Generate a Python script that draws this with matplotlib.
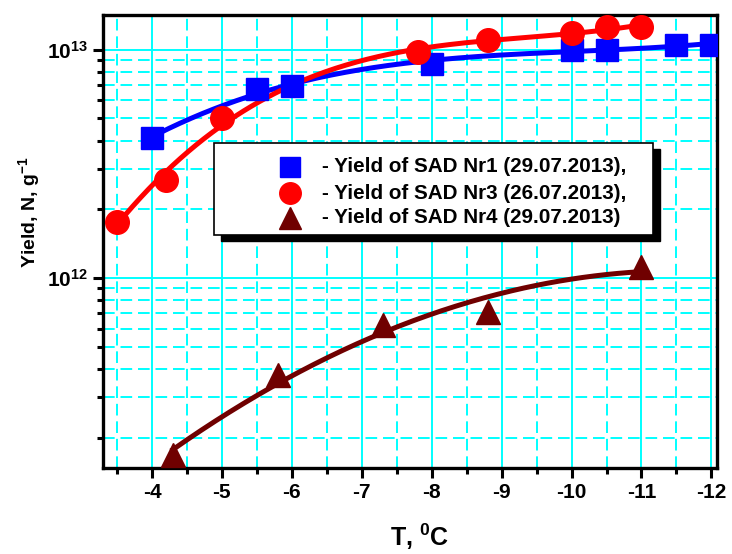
import matplotlib
matplotlib.use("Agg")
import matplotlib.pyplot as plt
import numpy as np
from matplotlib.patches import Rectangle
from matplotlib.ticker import FixedLocator, FuncFormatter, LogLocator, NullFormatter

plt.rcParams['font.family'] = ['Liberation Sans', 'DejaVu Sans']
plt.rcParams['font.weight'] = 'bold'
plt.rcParams['mathtext.fontset'] = 'custom'
plt.rcParams['mathtext.rm'] = 'Liberation Sans:bold'
plt.rcParams['mathtext.bf'] = 'Liberation Sans:bold'

# data
t_nr1 = [-4.0, -5.5, -6.0, -8.0, -10.0, -10.5, -11.5, -12.0]
y_nr1 = [4.1e12, 6.7e12, 6.95e12, 8.7e12, 1.0e13, 1.0e13, 1.05e13, 1.05e13]

t_nr3 = [-3.5, -4.2, -5.0, -7.8, -8.8, -10.0, -10.5, -11.0]
y_nr3 = [1.76e12, 2.69e12, 5.0e12, 9.8e12, 1.1e13, 1.18e13, 1.26e13, 1.26e13]

t_nr4 = [-4.3, -5.8, -7.3, -8.8, -11.0]
y_nr4 = [1.67e11, 3.76e11, 6.2e11, 7.1e11, 1.12e12]

labels = ['- Yield of SAD Nr1 (29.07.2013),',
          '- Yield of SAD Nr3 (26.07.2013),',
          '- Yield of SAD Nr4 (29.07.2013)']


def fit_line(t, y, deg):
    # smooth curve through the points (polynomial in log space)
    c = np.polyfit(t, np.log10(y), deg)
    xs = np.linspace(min(t), max(t), 200)
    return xs, 10 ** np.polyval(c, xs)


fig = plt.figure(figsize=(7.32, 5.54), dpi=100)
ax = fig.add_axes([0.1407, 0.1552, 0.8388, 0.8177])

series = [
    (t_nr1, y_nr1, 'blue', 's', 16, 14, 3),
    (t_nr3, y_nr3, 'red', 'o', 17, 15.5, 3),
    (t_nr4, y_nr4, '#700000', '^', 17, 16, 2),
]
for t, y, col, mk, ms, lms, deg in series:
    xs, ys = fit_line(t, y, deg)
    ax.plot(xs, ys, color=col, lw=3.6, zorder=3)
    ax.plot(t, y, ls='none', marker=mk, ms=ms, color=col, zorder=4)

ax.set_yscale('log')
ax.set_xlim(-3.3, -12.08)
ax.set_ylim(1.47e11, 1.42e13)

ax.xaxis.set_major_locator(FixedLocator(np.arange(-4, -12.5, -1)))
ax.xaxis.set_minor_locator(FixedLocator(np.arange(-3.5, -12.5, -1)))
ax.xaxis.set_major_formatter(FuncFormatter(lambda v, p: '%d' % v))
ax.yaxis.set_major_locator(LogLocator(base=10, numticks=10))
ax.yaxis.set_minor_locator(LogLocator(base=10, subs=np.arange(2, 10), numticks=20))
ax.yaxis.set_minor_formatter(NullFormatter())
ax.yaxis.set_major_formatter(FuncFormatter(
    lambda v, p: r'$\mathbf{10^{%d}}$' % round(np.log10(v))))

ax.grid(which='major', color='cyan', lw=1.4, ls='-', zorder=0)
ax.grid(which='minor', color='cyan', lw=1.4, ls=(0, (6, 3)), zorder=0)
ax.set_axisbelow(True)

ax.tick_params(which='major', direction='out', length=7, width=2.2,
               labelsize=15, top=False, right=False, pad=4)
ax.tick_params(which='minor', direction='out', length=4, width=2.2,
               top=False, right=False)
for s in ax.spines.values():
    s.set_linewidth(2.4)

ax.set_xlabel(r'T, $^{\mathbf{0}}$C', fontsize=18, fontweight='bold')
ax.xaxis.set_label_coords(0.515, -0.118)
ax.set_ylabel(r'Yield, N, g$^{\mathbf{-1}}$', fontsize=14, fontweight='bold')
ax.yaxis.set_label_coords(-0.097, 0.565)

# legend box with a solid black shadow, drawn in axes fractions
bx0, bx1, by0, by1 = 0.1808, 0.8958, 0.5143, 0.7174
ax.add_patch(Rectangle((bx0 + 0.011, by0 - 0.013), bx1 - bx0, by1 - by0,
                       transform=ax.transAxes, facecolor='black',
                       edgecolor='black', zorder=9, clip_on=False))
ax.add_patch(Rectangle((bx0, by0), bx1 - bx0, by1 - by0,
                       transform=ax.transAxes, facecolor='white',
                       edgecolor='black', lw=1.2, zorder=10, clip_on=False))
rows = [0.6645, 0.6070, 0.5520]
for (t, y, col, mk, ms, lms, deg), lab, ry in zip(series, labels, rows):
    ax.plot([0.3046], [ry], transform=ax.transAxes, ls='none', marker=mk,
            ms=lms, color=col, zorder=11, clip_on=False)
    ax.text(0.3567, ry, lab, transform=ax.transAxes, fontsize=14.9,
            fontweight='bold', va='center', ha='left', zorder=11)

fig.savefig('out.png', dpi=100)
